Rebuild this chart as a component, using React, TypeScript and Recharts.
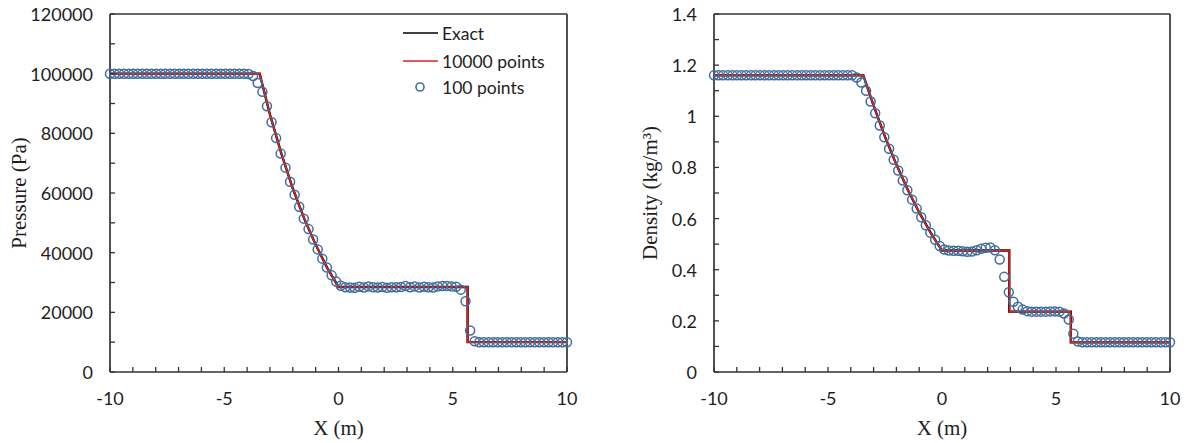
import {
  ComposedChart,
  Line,
  Scatter,
  XAxis,
  YAxis,
  ReferenceLine,
  Legend,
} from "recharts";

// 100-point solution grid (linspace -10..10)
const X_100 = [
  -10, -9.8, -9.6, -9.39, -9.19, -8.99, -8.79, -8.59, -8.38, -8.18,
  -7.98, -7.78, -7.58, -7.37, -7.17, -6.97, -6.77, -6.57, -6.36, -6.16,
  -5.96, -5.76, -5.56, -5.35, -5.15, -4.95, -4.75, -4.55, -4.34, -4.14,
  -3.94, -3.74, -3.54, -3.33, -3.13, -2.93, -2.73, -2.53, -2.32, -2.12,
  -1.92, -1.72, -1.52, -1.31, -1.11, -0.91, -0.71, -0.51, -0.3, -0.1,
  0.1, 0.3, 0.51, 0.71, 0.91, 1.11, 1.31, 1.52, 1.72, 1.92,
  2.12, 2.32, 2.53, 2.73, 2.93, 3.13, 3.33, 3.54, 3.74, 3.94,
  4.14, 4.34, 4.55, 4.75, 4.95, 5.15, 5.35, 5.56, 5.76, 5.96,
  6.16, 6.36, 6.57, 6.77, 6.97, 7.17, 7.37, 7.58, 7.78, 7.98,
  8.18, 8.38, 8.59, 8.79, 8.99, 9.19, 9.39, 9.6, 9.8, 10,
];

const PRESSURE_100 = [
  100000, 100000, 100000, 100000, 100000, 100000, 100000, 100000, 100000, 100000,
  100000, 100000, 100000, 100000, 100000, 100000, 100000, 100000, 100000, 100000,
  100000, 100000, 100000, 100000, 100000, 100000, 100000, 100000, 100000, 100000,
  99900, 99200, 96900, 93900, 89100, 83700, 78400, 73200, 68500, 63800,
  59400, 55400, 51400, 47900, 44400, 41100, 38000, 35000, 32400, 30300,
  28900, 28400, 28300, 28200, 28600, 28300, 28700, 28400, 28300, 28500,
  28200, 28400, 28400, 28500, 28800, 28400, 28700, 28300, 28600, 28400,
  28300, 28700, 28800, 28800, 28700, 28600, 27600, 23700, 13900, 10300,
  10000, 10000, 10000, 10000, 10000, 10000, 10000, 10000, 10000, 10000,
  10000, 10000, 10000, 10000, 10000, 10000, 10000, 10000, 10000, 10000,
];

const DENSITY_100 = [
  1.16, 1.16, 1.16, 1.16, 1.16, 1.16, 1.16, 1.16, 1.16, 1.16,
  1.16, 1.16, 1.16, 1.16, 1.16, 1.16, 1.16, 1.16, 1.16, 1.16,
  1.16, 1.16, 1.16, 1.16, 1.16, 1.16, 1.16, 1.16, 1.16, 1.16,
  1.16, 1.152, 1.132, 1.1, 1.058, 1.012, 0.964, 0.918, 0.873, 0.83,
  0.788, 0.749, 0.711, 0.674, 0.639, 0.605, 0.574, 0.545, 0.517, 0.493,
  0.479, 0.475, 0.474, 0.474, 0.472, 0.47, 0.471, 0.476, 0.482, 0.486,
  0.487, 0.476, 0.44, 0.372, 0.312, 0.275, 0.255, 0.244, 0.238, 0.236,
  0.236, 0.236, 0.236, 0.237, 0.237, 0.236, 0.229, 0.205, 0.15, 0.119,
  0.116, 0.116, 0.116, 0.116, 0.116, 0.116, 0.116, 0.116, 0.116, 0.116,
  0.116, 0.116, 0.116, 0.116, 0.116, 0.116, 0.116, 0.116, 0.116, 0.116,
];

// exact solution and 10000-point solution (breakpoints)
const X_EXACT_P = [-10, -3.45, -3, -2.5, -2, -1.5, -1, -0.5, 0, 5.65, 5.65, 10];
const PRESSURE_EXACT = [100000, 100000, 86300, 73200, 61500, 51400, 42700, 35000, 28500, 28500, 10000, 10000];
const X_FINE_P = [-10, -3.45, -3, -2.5, -2, -1.5, -1, -0.5, 0, 5.64, 5.66, 10];
const PRESSURE_FINE = [100000, 100000, 86300, 73200, 61500, 51400, 42700, 35000, 28500, 28500, 10000, 10000];

const X_EXACT_R = [-10, -3.45, -3, -2.5, -2, -1.5, -1, -0.5, 0, 2.95, 2.95, 5.65, 5.65, 10];
const DENSITY_EXACT = [1.16, 1.16, 1.042, 0.92, 0.811, 0.713, 0.624, 0.545, 0.475, 0.475, 0.236, 0.236, 0.116, 0.116];
const X_FINE_R = [-10, -3.45, -3, -2.5, -2, -1.5, -1, -0.5, 0, 2.94, 2.96, 5.64, 5.66, 10];
const DENSITY_FINE = [1.16, 1.16, 1.042, 0.92, 0.811, 0.713, 0.624, 0.545, 0.475, 0.475, 0.236, 0.236, 0.116, 0.116];

const X_TICKS = [-10, -9, -8, -7, -6, -5, -4, -3, -2, -1, 0, 1, 2, 3, 4, 5, 6, 7, 8, 9, 10];
const PRESSURE_TICKS = [0, 10000, 20000, 30000, 40000, 50000, 60000, 70000, 80000, 90000, 100000, 110000, 120000];
const DENSITY_TICKS = [0, 0.1, 0.2, 0.3, 0.4, 0.5, 0.6, 0.7, 0.8, 0.9, 1, 1.1, 1.2, 1.3, 1.4];

const zip = (xs: number[], ys: number[]) => xs.map((x, i) => ({ x, y: ys[i] }));

const AXIS = "#333333";
const BLUE = "#3f6d9e";
const RED = "#e0201b";
const INK = "#1e1e1e";
const SANS = "Lato, 'Open Sans', sans-serif";
const SERIF = "'Liberation Serif', 'Times New Roman', serif";

const XTick = (props: any) => {
  const { x, y, payload } = props;
  const v = payload.value;
  return (
    <g>
      <line x1={x} y1={y} x2={x} y2={y - 5} stroke={AXIS} strokeWidth={1.3} />
      {v % 5 === 0 && (
        <text x={x} y={y + 26} textAnchor="middle" dominantBaseline="central"
          style={{ fontFamily: SANS, fontSize: 18, fill: INK }}>
          {v}
        </text>
      )}
    </g>
  );
};

const makeYTick = (showLabel: (v: number) => boolean) => (props: any) => {
  const { x, y, payload } = props;
  const v = payload.value;
  return (
    <g>
      <line x1={x} y1={y} x2={x + 5} y2={y} stroke={AXIS} strokeWidth={1.3} />
      {showLabel(v) && (
        <text x={x - 17} y={y} textAnchor="end" dominantBaseline="central"
          style={{ fontFamily: SANS, fontSize: 18, fill: INK }}>
          {v}
        </text>
      )}
    </g>
  );
};

const Ring = (p: any) => (
  <circle cx={p.cx} cy={p.cy} r={4.5} fill="none" stroke={BLUE} strokeWidth={1.5} />
);

const LegendBox = () => (
  <svg width={170} height={90}>
    <line x1={3} y1={15} x2={38} y2={15} stroke="#000" strokeWidth={1.6} />
    <text x={42} y={15} dominantBaseline="central" style={{ fontFamily: SANS, fontSize: 17.5, fill: INK }}>Exact</text>
    <line x1={3} y1={43} x2={38} y2={43} stroke={RED} strokeWidth={1.6} />
    <text x={42} y={43} dominantBaseline="central" style={{ fontFamily: SANS, fontSize: 17.5, fill: INK }}>10000 points</text>
    <circle cx={20} cy={69} r={4} fill="none" stroke={BLUE} strokeWidth={1.6} />
    <text x={42} y={69} dominantBaseline="central" style={{ fontFamily: SANS, fontSize: 17.5, fill: INK }}>100 points</text>
  </svg>
);

interface PanelProps {
  width: number;
  yWidth: number;
  marginRight: number;
  yMax: number;
  yTicks: number[];
  showLabel: (v: number) => boolean;
  yTitle: string;
  yTitleOffset: number;
  exact: { x: number; y: number }[];
  fine: { x: number; y: number }[];
  coarse: { x: number; y: number }[];
  withLegend?: boolean;
}

const Panel = (p: PanelProps) => (
  <ComposedChart width={p.width} height={443} margin={{ top: 14, right: p.marginRight, bottom: 0, left: 0 }}>
    <XAxis
      dataKey="x"
      type="number"
      domain={[-10, 10]}
      ticks={X_TICKS}
      interval={0}
      height={71}
      tickSize={0}
      tickMargin={0}
      tickLine={false}
      axisLine={{ stroke: AXIS, strokeWidth: 1.7 }}
      tick={<XTick />}
      label={{
        value: "X (m)",
        position: "insideBottom",
        offset: 8,
        style: { fontFamily: SERIF, fontSize: 21, fill: INK },
      }}
    />
    <YAxis
      dataKey="y"
      type="number"
      domain={[0, p.yMax]}
      ticks={p.yTicks}
      interval={0}
      width={p.yWidth}
      tickSize={0}
      tickMargin={0}
      tickLine={false}
      axisLine={{ stroke: AXIS, strokeWidth: 1.7 }}
      tick={makeYTick(p.showLabel)}
      label={{
        value: p.yTitle,
        angle: -90,
        position: "insideLeft",
        offset: p.yTitleOffset,
        style: { textAnchor: "middle", fontFamily: SERIF, fontSize: 21, fill: INK },
      }}
    />
    <ReferenceLine y={p.yMax} stroke={AXIS} strokeWidth={1.7} />
    <ReferenceLine x={10} stroke={AXIS} strokeWidth={1.7} />
    <Line data={p.exact} dataKey="y" type="linear" stroke="#000" strokeWidth={2.4}
      dot={false} activeDot={false} isAnimationActive={false} name="Exact" />
    <Line data={p.fine} dataKey="y" type="linear" stroke={RED} strokeWidth={1.7}
      dot={false} activeDot={false} isAnimationActive={false} name="10000 points" />
    <Scatter data={p.coarse} dataKey="y" shape={Ring} isAnimationActive={false} name="100 points" />
    {p.withLegend && (
      <Legend
        layout="vertical"
        align="center"
        verticalAlign="middle"
        content={() => <LegendBox />}
        wrapperStyle={{ position: "absolute", left: 400, top: 18, width: 170, height: 90 }}
      />
    )}
  </ComposedChart>
);

export default function App() {
  return (
    <div style={{ position: "absolute", left: 0, top: 0, width: 1194, height: 443, background: "#fff" }}>
      <div style={{ position: "absolute", left: 0, top: 0 }}>
        <Panel
          width={600}
          yWidth={110}
          marginRight={33}
          yMax={120000}
          yTicks={PRESSURE_TICKS}
          showLabel={(v) => v % 20000 === 0}
          yTitle="Pressure (Pa)"
          yTitleOffset={19}
          exact={zip(X_EXACT_P, PRESSURE_EXACT)}
          fine={zip(X_FINE_P, PRESSURE_FINE)}
          coarse={zip(X_100, PRESSURE_100)}
          withLegend
        />
      </div>
      <div style={{ position: "absolute", left: 600, top: 0 }}>
        <Panel
          width={594}
          yWidth={114}
          marginRight={24}
          yMax={1.4}
          yTicks={DENSITY_TICKS}
          showLabel={(v) => Math.round(v * 10) % 2 === 0}
          yTitle="Density (kg/m³)"
          yTitleOffset={50}
          exact={zip(X_EXACT_R, DENSITY_EXACT)}
          fine={zip(X_FINE_R, DENSITY_FINE)}
          coarse={zip(X_100, DENSITY_100)}
        />
      </div>
    </div>
  );
}
